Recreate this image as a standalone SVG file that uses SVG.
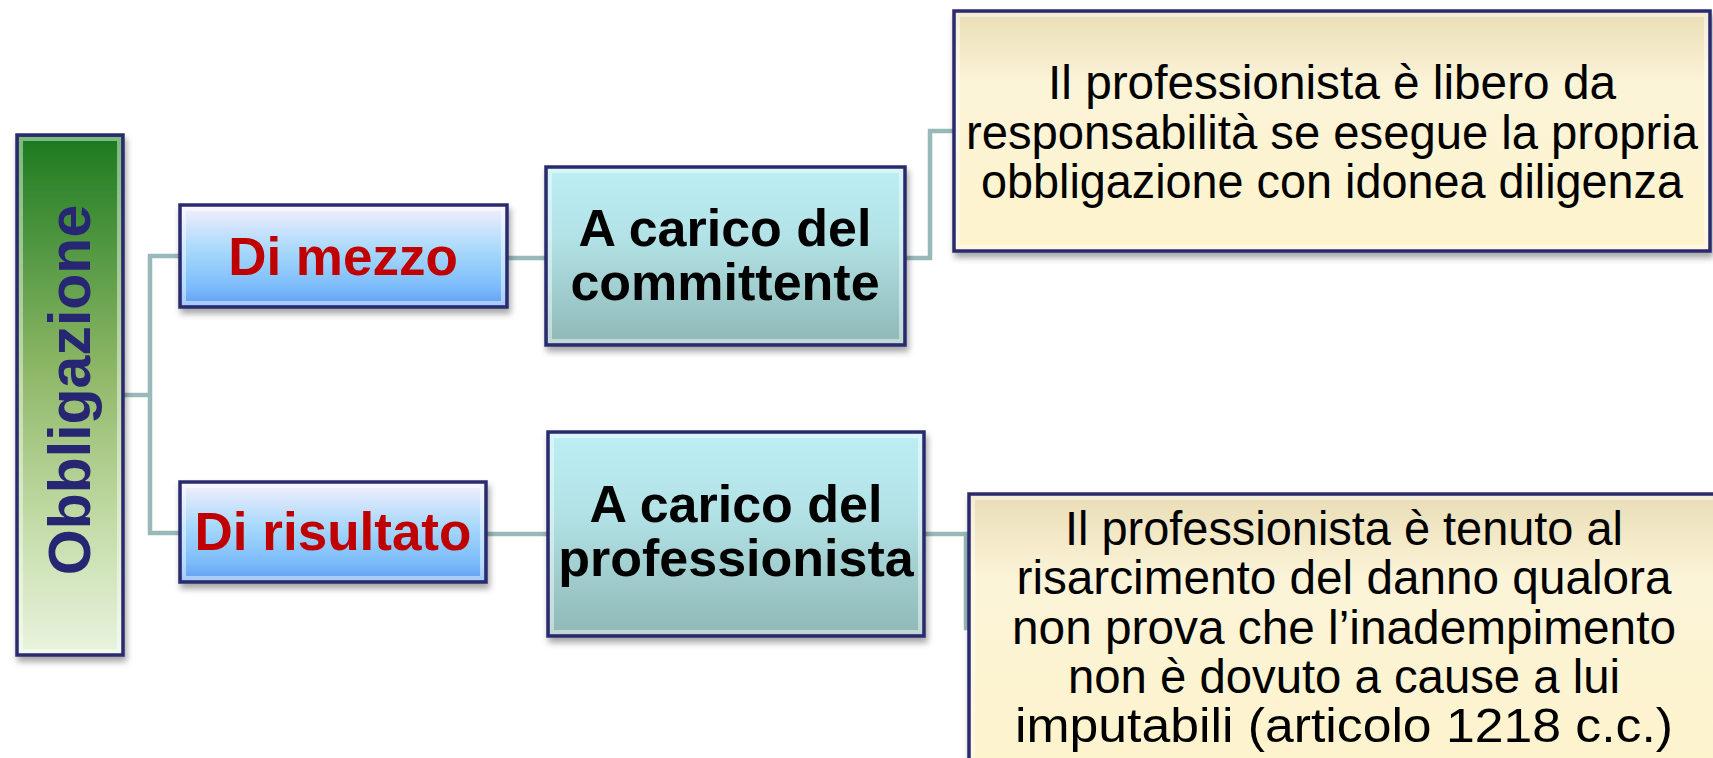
<svg xmlns="http://www.w3.org/2000/svg" width="1713" height="758" viewBox="0 0 1713 758">
<defs>
<linearGradient id="gGreen" x1="0" y1="0" x2="0" y2="1">
<stop offset="0" stop-color="#1b7a1f"/>
<stop offset="0.45" stop-color="#8db766"/>
<stop offset="0.75" stop-color="#c4dca8"/>
<stop offset="1" stop-color="#eaf4df"/>
</linearGradient>
<linearGradient id="gBlue" x1="0" y1="0" x2="0" y2="1">
<stop offset="0" stop-color="#f6f0fc"/>
<stop offset="0.45" stop-color="#a6d8fb"/>
<stop offset="0.8" stop-color="#7dbcfb"/>
<stop offset="1" stop-color="#5f9cf0"/>
</linearGradient>
<linearGradient id="gTeal" x1="0" y1="0" x2="0" y2="1">
<stop offset="0" stop-color="#bdeef3"/>
<stop offset="0.4" stop-color="#b2e2e6"/>
<stop offset="1" stop-color="#8fb8b6"/>
</linearGradient>
<linearGradient id="gCream" x1="0" y1="0" x2="0" y2="1">
<stop offset="0" stop-color="#e9ddb6"/>
<stop offset="0.3" stop-color="#fcf4d8"/>
<stop offset="1" stop-color="#fdf3cc"/>
</linearGradient>
<filter id="sh" x="-10%" y="-10%" width="120%" height="125%">
<feDropShadow dx="2" dy="5" stdDeviation="3" flood-color="#000" flood-opacity="0.35"/>
</filter>
</defs>
<style>
.box{stroke:#2b2b6e;stroke-width:3.5;filter:url(#sh)}
.bev{fill:none;stroke:#ffffff;stroke-opacity:0.45;stroke-width:4}
.conn{fill:none;stroke:#98b9b9;stroke-width:4.5}
.red{font-family:"Liberation Sans",Arial,sans-serif;font-weight:bold;font-size:53px;fill:#c00000;text-anchor:middle}
.blk{font-family:"Liberation Sans",Arial,sans-serif;font-weight:bold;font-size:52px;fill:#000;text-anchor:middle}
.reg{font-family:"Liberation Sans",Arial,sans-serif;font-size:48px;fill:#000;text-anchor:middle}
</style>
<g id="connectors">
<polyline class="conn" points="123,395 150,395"/>
<polyline class="conn" points="180,256 150,256 150,533 180,533"/>
<polyline class="conn" points="507,258 546,258"/>
<polyline class="conn" points="905,258 930,258 930,131 954,131"/>
<polyline class="conn" points="486,534 548,534"/>
<polyline class="conn" points="924,534 966,534 966,628 969,628"/>
</g>
<g id="node-obbligazione">
<rect class="box" x="17" y="135" width="106" height="520" fill="url(#gGreen)"/>
<rect class="bev" x="21" y="139" width="98" height="512"/>
<text x="0" y="0" transform="translate(90,390) rotate(-90)" font-family="'Liberation Sans',Arial,sans-serif" font-weight="bold" font-size="59" fill="#262673" text-anchor="middle">Obbligazione</text>
</g>
<g id="node-dimezzo">
<rect class="box" x="180" y="205" width="327" height="102" fill="url(#gBlue)"/>
<rect class="bev" x="184" y="209" width="319" height="94"/>
<text class="red" x="343" y="275">Di mezzo</text>
</g>
<g id="node-dirisultato">
<rect class="box" x="180" y="482" width="306" height="100" fill="url(#gBlue)"/>
<rect class="bev" x="184" y="486" width="298" height="92"/>
<text class="red" x="333" y="550">Di risultato</text>
</g>
<g id="node-committente">
<rect class="box" x="546" y="167" width="359" height="178" fill="url(#gTeal)"/>
<rect class="bev" x="550" y="171" width="351" height="170"/>
<text class="blk" x="725" y="246">A carico del</text>
<text class="blk" x="725" y="300">committente</text>
</g>
<g id="node-professionista">
<rect class="box" x="548" y="432" width="376" height="204" fill="url(#gTeal)"/>
<rect class="bev" x="552" y="436" width="368" height="196"/>
<text class="blk" x="736" y="522">A carico del</text>
<text class="blk" x="736" y="576">professionista</text>
</g>
<g id="node-mezzo-desc">
<rect class="box" x="954" y="11" width="756" height="240" fill="url(#gCream)"/>
<rect class="bev" x="958" y="15" width="748" height="232"/>
<text class="reg" x="1332" y="99" textLength="568" lengthAdjust="spacingAndGlyphs">Il professionista è libero da</text>
<text class="reg" x="1332" y="149" textLength="732" lengthAdjust="spacingAndGlyphs">responsabilità se esegue la propria</text>
<text class="reg" x="1332" y="198" textLength="702" lengthAdjust="spacingAndGlyphs">obbligazione con idonea diligenza</text>
</g>
<g id="node-risultato-desc">
<rect class="box" x="969" y="494" width="760" height="280" fill="url(#gCream)"/>
<rect class="bev" x="973" y="498" width="752" height="272"/>
<text class="reg" x="1344" y="545" textLength="558" lengthAdjust="spacingAndGlyphs">Il professionista è tenuto al</text>
<text class="reg" x="1344" y="594" textLength="655" lengthAdjust="spacingAndGlyphs">risarcimento del danno qualora</text>
<text class="reg" x="1344" y="644" textLength="664" lengthAdjust="spacingAndGlyphs">non prova che l’inadempimento</text>
<text class="reg" x="1344" y="693" textLength="552" lengthAdjust="spacingAndGlyphs">non è dovuto a cause a lui</text>
<text class="reg" x="1344" y="742" textLength="658" lengthAdjust="spacingAndGlyphs">imputabili (articolo 1218 c.c.)</text>
</g>
</svg>
